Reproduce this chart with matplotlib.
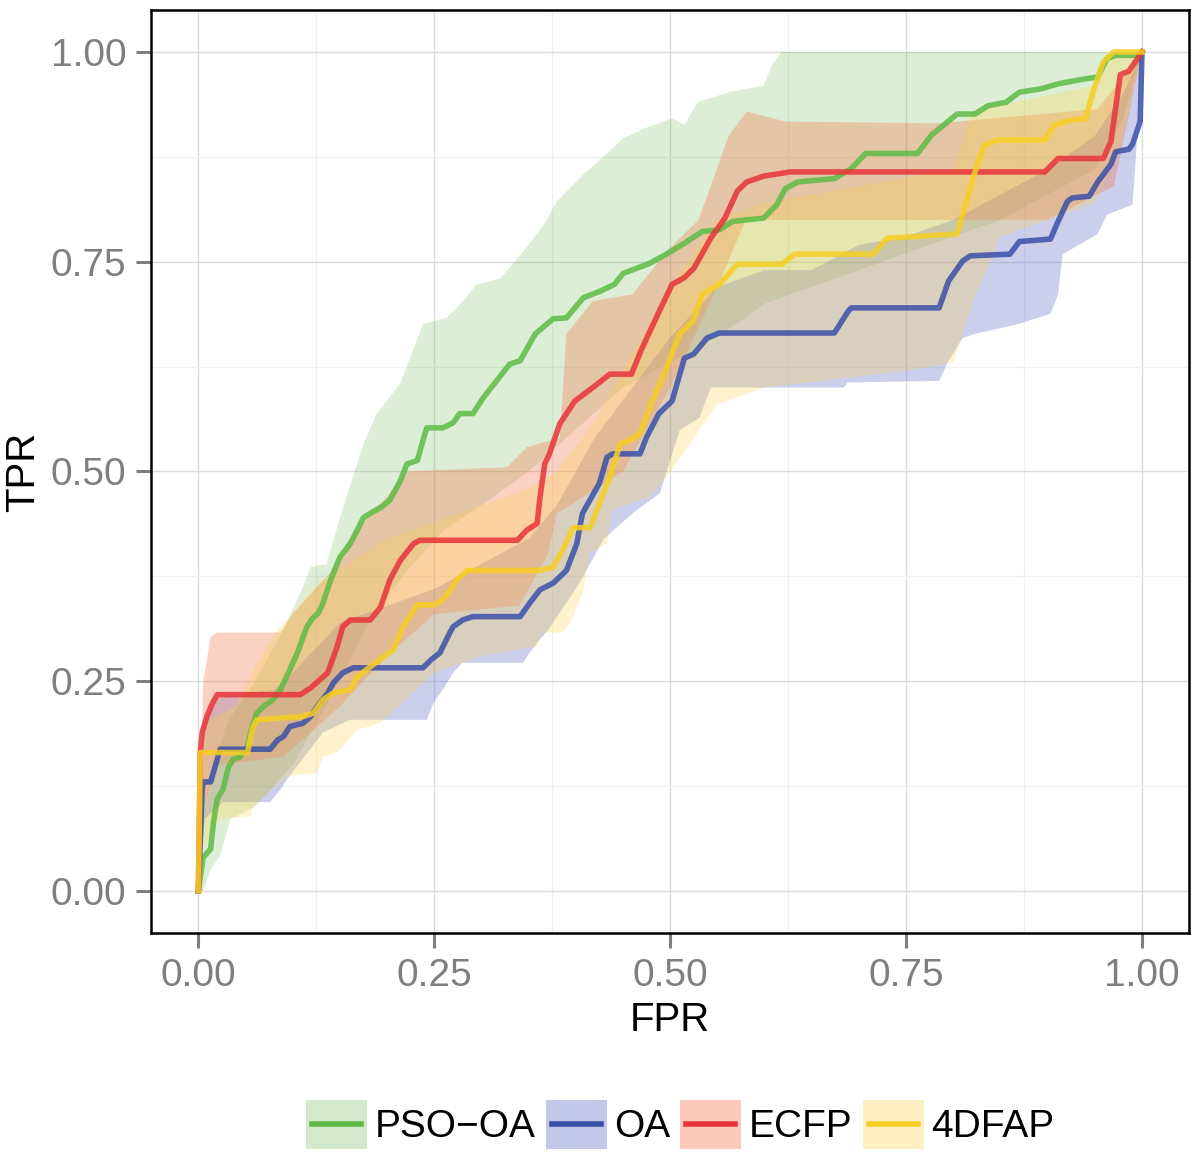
import numpy as np
import matplotlib
matplotlib.use("Agg")
import matplotlib.pyplot as plt
from matplotlib.patches import Rectangle
from matplotlib.lines import Line2D
from matplotlib.legend_handler import HandlerBase

plt.rcParams['font.family'] = ['Liberation Sans', 'DejaVu Sans']

# +------+
# | Data |
# +------+
series_names = ['PSO\u2212OA', 'OA', 'ECFP', '4DFAP']

# PSO-OA mean ROC (fpr, tpr)
pso_fpr = [0, .005, .013, .016, .02, .026, .032, .037, .044, .052, .057, .062, .069, .079, .087, .097,
           .105, .115, .121, .127, .132, .14, .150, .161, .175, .182, .193, .203, .214, .221, .232, .238,
           .242, .259, .27, .277, .291, .302, .316, .330, .341, .357, .376, .39, .408, .426, .441, .45,
           .464, .478, .496, .515, .534, .552, .566, .599, .613, .622, .635, .674, .692, .707, .762, .777,
           .790, .804, .823, .837, .856, .870, .893, .911, .94, .953, .963, .972, .996, 1.0]
pso_tpr = [0, .04, .05, .082, .11, .121, .148, .157, .16, .172, .196, .212, .22, .228, .24, .264,
           .284, .315, .325, .331, .343, .37, .398, .414, .445, .45, .457, .466, .489, .509, .513, .537,
           .552, .552, .558, .569, .569, .588, .608, .628, .632, .664, .682, .683, .707, .715, .723, .736,
           .742, .748, .759, .772, .786, .788, .798, .802, .818, .837, .845, .849, .861, .879, .879, .901,
           .913, .926, .926, .936, .94, .952, .956, .962, .968, .97, .992, .996, .996, 1.0]

# OA mean ROC
oa_fpr = [0, .004, .005, .013, .02, .023, .076, .084, .09, .097, .111, .119, .126, .137, .143, .153,
          .164, .238, .246, .256, .267, .27, .28, .291, .341, .351, .362, .376, .39, .401, .407, .415,
          .425, .433, .439, .468, .475, .488, .502, .515, .525, .539, .552, .674, .688, .692, .785, .795,
          .81, .818, .86, .870, .903, .911, .921, .926, .944, .953, .967, .972, .986, .99, .998, 1.0]
oa_tpr = [0, .12, .13, .13, .157, .169, .169, .18, .184, .196, .2, .208, .22, .236, .248, .26,
          .266, .266, .275, .284, .309, .315, .323, .327, .327, .343, .359, .367, .382, .414, .45, .466,
          .486, .517, .521, .521, .541, .569, .584, .635, .64, .659, .665, .665, .69, .695, .695, .727,
          .751, .757, .759, .774, .777, .798, .822, .826, .828, .845, .866, .881, .884, .89, .917, 1.0]

# ECFP mean ROC
ecfp_fpr = [0, .002, .004, .009, .015, .02, .108, .119, .129, .137, .147, .153, .161, .182, .193, .203,
            .214, .228, .235, .338, .348, .359, .362, .367, .372, .383, .399, .418, .436, .459, .469,
            .488, .502, .515, .525, .543, .558, .571, .581, .599, .627, .897, .911, .959, .967, .977,
            .986, 1.0]
ecfp_tpr = [0, .165, .189, .208, .224, .234, .234, .242, .252, .26, .291, .315, .323, .323, .338, .371,
            .394, .414, .418, .418, .43, .438, .469, .509, .521, .557, .584, .6, .616, .616, .644,
            .69, .723, .731, .742, .778, .802, .834, .845, .852, .857, .857, .873, .873, .893, .973,
            .977, 1.0]

# 4DFAP mean ROC
dfap_fpr = [0, .002, .013, .052, .058, .062, .111, .122, .132, .143, .161, .168, .182, .196, .206, .217,
            .232, .249, .259, .267, .274, .285, .362, .376, .386, .397, .415, .425, .436, .447, .457,
            .468, .481, .492, .51, .524, .534, .552, .571, .618, .632, .715, .73, .804, .814, .823,
            .833, .847, .897, .907, .926, .94, .949, .959, .970, 1.0]
dfap_tpr = [0, .165, .165, .165, .196, .204, .208, .212, .228, .236, .24, .255, .267, .279, .287, .315,
            .341, .341, .347, .359, .371, .382, .382, .386, .406, .433, .433, .462, .493, .533, .537,
            .545, .584, .612, .664, .679, .711, .723, .747, .747, .759, .759, .778, .783, .822, .857,
            .889, .895, .895, .913, .919, .92, .956, .988, 1.0, 1.0]

# ribbons: upper and lower edges (fpr, tpr)
pso_up_fpr = [0, .005, .03, .06, .09, .108, .119, .136, .15, .175, .189, .214, .238, .263, .274, .295,
              .32, .347, .366, .38, .408, .432, .45, .473, .502, .515, .529, .562, .599, .608, .618, 1.0]
pso_up_tpr = [0, .1, .2, .25, .311, .355, .386, .39, .445, .533, .569, .605, .676, .683, .695, .723,
              .73, .766, .794, .822, .854, .878, .897, .909, .921, .913, .94, .952, .96, .985, 1.0, 1.0]
pso_lo_fpr = [0, .005, .013, .023, .034, .06, .1, .14, .18, .22, .26, .3, .35, .4, .45, .5, .55, .6,
              .65, .7, .75, .8, .85, .9, .95, .98, 1.0]
pso_lo_tpr = [0, 0, .026, .042, .086, .1, .15, .23, .32, .38, .43, .46, .5, .55, .6, .63, .66, .7,
              .72, .74, .76, .78, .8, .83, .86, .92, 1.0]

oa_up_fpr = [0, .005, .02, .08, .1, .15, .2, .25, .3, .35, .38, .42, .46, .5, .55, .6, .65, .7, .75,
             .8, .85, .9, .95, .98, 1.0]
oa_up_tpr = [0, .2, .23, .24, .26, .32, .34, .36, .39, .42, .46, .54, .6, .66, .72, .74, .74, .77, .78,
             .8, .83, .86, .9, .95, 1.0]
oa_lo_fpr = [0, .005, .007, .026, .076, .087, .094, .132, .161, .242, .249, .259, .27, .28, .344, .351,
             .359, .37, .4, .43, .46, .489, .51, .531, .543, .684, .688, .785, .795, .81, .823, .870,
             .903, .911, .916, .953, .963, .99, .996, 1.0]
oa_lo_tpr = [0, .062, .086, .106, .106, .121, .133, .189, .204, .204, .224, .24, .26, .272, .272, .284,
             .296, .31, .36, .42, .45, .474, .549, .564, .6, .6, .606, .608, .632, .659, .664, .676,
             .688, .711, .759, .783, .806, .818, .917, 1.0]

ecfp_up_fpr = [0, .005, .013, .02, .087, .1, .14, .16, .2, .22, .327, .348, .383, .39, .418, .46, .496,
               .53, .562, .581, .622, .785, .953, .98, 1.0]
ecfp_up_tpr = [0, .248, .303, .308, .308, .33, .38, .42, .47, .5, .505, .529, .54, .664, .703, .711,
               .762, .8, .9, .929, .917, .915, .932, .97, 1.0]
ecfp_lo_fpr = [0, .005, .02, .09, .15, .2, .25, .34, .37, .38, .45, .5, .55, .58, .9, .97, 1.0]
ecfp_lo_tpr = [0, .1, .15, .16, .22, .28, .33, .34, .4, .45, .5, .6, .72, .8, .8, .84, 1.0]

dfap_up_fpr = [0, .005, .04, .062, .084, .13, .2, .25, .3, .35, .38, .42, .45, .5, .55, .6, .8, .82,
               .95, .97, 1.0]
dfap_up_tpr = [0, .2, .22, .272, .311, .37, .42, .44, .46, .48, .5, .56, .62, .72, .8, .82, .86, .93,
               .96, 1.0, 1.0]
dfap_lo_fpr = [0, .005, .023, .055, .058, .094, .126, .132, .147, .168, .193, .25, .3, .35, .359, .365,
               .386, .394, .407, .415, .433, .439, .457, .478, .5, .55, .6, .75, .8, .82, .85, .95,
               .98, 1.0]
dfap_lo_tpr = [0, .05, .086, .089, .101, .137, .141, .16, .165, .192, .2, .26, .28, .29, .291, .308,
               .308, .319, .355, .403, .414, .454, .462, .469, .5, .58, .6, .62, .63, .7, .78, .82,
               .9, 1.0]

line_colors = ['#5DBB46', '#3A4FA8', '#E8333A', '#F6CF22']
band_colors = ['#55AA32', '#5562C0', '#F5693A', '#FFD24A']
band_alphas = [0.2, 0.3, 0.3, 0.28]

means = [(pso_fpr, pso_tpr), (oa_fpr, oa_tpr), (ecfp_fpr, ecfp_tpr), (dfap_fpr, dfap_tpr)]
uppers = [(pso_up_fpr, pso_up_tpr), (oa_up_fpr, oa_up_tpr), (ecfp_up_fpr, ecfp_up_tpr), (dfap_up_fpr, dfap_up_tpr)]
lowers = [(pso_lo_fpr, pso_lo_tpr), (oa_lo_fpr, oa_lo_tpr), (ecfp_lo_fpr, ecfp_lo_tpr), (dfap_lo_fpr, dfap_lo_tpr)]

LW = 4.0


class KeyHandler(HandlerBase):
    # ggplot style key: filled square with a short line across
    def create_artists(self, legend, orig_handle, xdescent, ydescent, width, height, fontsize, trans):
        fc, alpha, lc = orig_handle
        box = Rectangle((-xdescent, -ydescent), width, height, facecolor=fc, alpha=alpha,
                        lw=0, transform=trans)
        ym = -ydescent + height / 2
        line = Line2D([-xdescent + 0.1 * width, -xdescent + 0.9 * width], [ym, ym],
                      color=lc, lw=LW, transform=trans)
        return [box, line]


# +------+
# | Plot |
# +------+
fig = plt.figure(figsize=(12, 11.75), dpi=100)
ax = fig.add_axes([0.126, 0.206, 0.865, 0.7855])

for i in range(4):
    ux, uy = uppers[i]
    lx, ly = lowers[i]
    ax.fill(list(ux) + list(lx)[::-1], list(uy) + list(ly)[::-1],
            color=band_colors[i], alpha=band_alphas[i], lw=0, zorder=1)

for i in range(4):
    x, y = means[i]
    ax.plot(x, y, color=line_colors[i], lw=LW, alpha=0.85, zorder=3)

ax.set_xlim(-0.05, 1.05)
ax.set_ylim(-0.05, 1.05)
ticks = [0, 0.25, 0.5, 0.75, 1.0]
ax.set_xticks(ticks)
ax.set_yticks(ticks)
ax.set_xticklabels(['%.2f' % t for t in ticks])
ax.set_yticklabels(['%.2f' % t for t in ticks])
ax.set_xticks([0.125, 0.375, 0.625, 0.875], minor=True)
ax.set_yticks([0.125, 0.375, 0.625, 0.875], minor=True)
ax.grid(True, which='major', color='#DCDCDC', lw=1.0, zorder=0)
ax.grid(True, which='minor', color='#F0F0F0', lw=1.0, zorder=0)
ax.set_axisbelow(True)
ax.tick_params(which='major', length=11, width=2.2, color='#7F7F7F',
               labelsize=28, labelcolor='#7F7F7F', pad=7)
ax.tick_params(which='minor', length=0)
for s in ax.spines.values():
    s.set_linewidth(1.8)
    s.set_color('black')

ax.set_xlabel('FPR', fontsize=29, labelpad=5)
ax.set_ylabel('TPR', fontsize=29, labelpad=6)

handles = [(band_colors[i], band_alphas[i] + 0.05, line_colors[i]) for i in range(4)]
fig.legend(handles, series_names, ncol=4, frameon=False, fontsize=28,
           loc='center', bbox_to_anchor=(0.567, 0.043),
           handler_map={tuple: KeyHandler()},
           handlelength=1.57, handleheight=1.57, handletextpad=0.2, columnspacing=0.25)

fig.savefig('out.png', dpi=100)
